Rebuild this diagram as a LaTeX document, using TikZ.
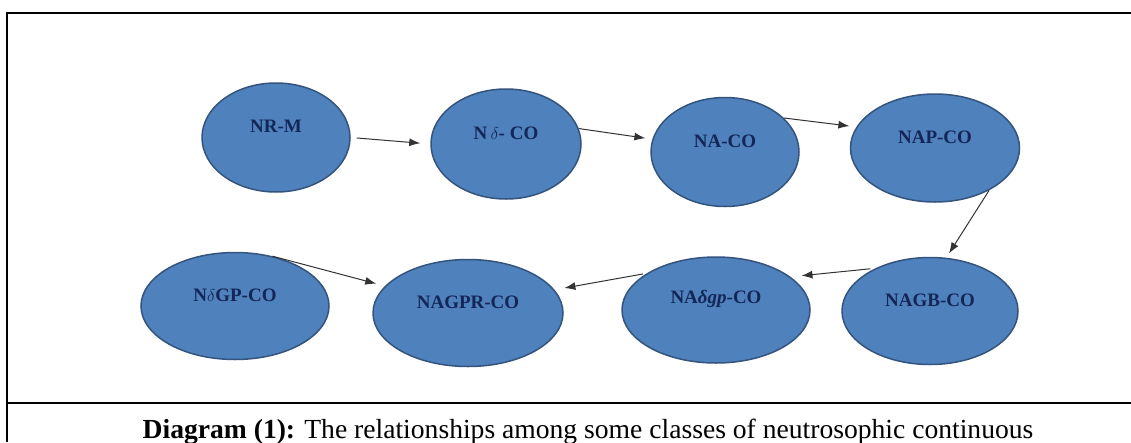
\documentclass[tikz,border=0pt]{standalone}
\usepackage{fontspec}
\setmainfont{Liberation Serif}
\usetikzlibrary{shapes.geometric,arrows.meta}
\definecolor{E}{RGB}{79,129,189}
\definecolor{B}{RGB}{52,84,126}
\definecolor{T}{RGB}{20,38,88}
\newcommand{\classnode}[6]{\node[classnode,minimum width=#4pt,minimum height=#5pt,label={[classlabel]center:#6}] (#1) at (#2,#3) {};}
\newcommand{\drawarrow}{\draw[-{Latex[length=11pt,width=8pt]},line width=1pt,black!80]}
\newcommand{\drawthick}{\draw[line width=2pt]}
\tikzset{
  classnode/.style={ellipse,draw=B,line width=1.5pt,fill=E,inner sep=0pt},
  classlabel/.style={yshift=11pt,text=T,inner sep=0pt,font=\fontsize{19}{19}\selectfont\bfseries}
}

\begin{document}
\begin{tikzpicture}[x=1pt,y=-1pt]
\useasboundingbox[fill=white] (0,0) rectangle (1131,442);
\drawthick (1131,13)--(7,13)--(7,442);
\drawthick (7,403)--(1131,403);
% top row
\classnode{nrm}{276}{137.5}{148}{109}{NR-M}
\classnode{nd}{506}{144}{150}{110}{N\,$\delta$- CO}
\classnode{na}{725}{152}{148}{109}{NA-CO}
\classnode{nap}{935}{148}{169}{108}{NAP-CO}
% bottom row
\classnode{ndgp}{235}{306}{188}{107}{N$\delta$GP-CO}
\classnode{nagpr}{468}{313}{190}{107}{NAGPR-CO}
\classnode{nadgp}{716}{310}{188}{106}{NA\textit{δgp}-CO}
\classnode{nagb}{930}{311}{176}{107}{NAGB-CO}
% arrows
\drawarrow[shorten <=6pt,shorten >=10pt] (nrm.east)--(nd.west);
\drawarrow[shorten >=7pt] (nd.12)--(na.170);
\drawarrow[shorten >=7pt] (na.30)--(nap.165);
\drawarrow[shorten >=5pt] (nap.-38)--(nagb.73);
\drawarrow[shorten <=5pt,shorten >=11pt] (nagb.142)--(nadgp.24);
\drawarrow[shorten <=4pt,shorten >=10pt] (nadgp.152)--(nagpr.15);
\drawarrow[shorten >=9pt] (ndgp.53)--(nagpr.162);
\node[anchor=base,inner sep=0pt,font=\fontsize{27.6}{27.6}\selectfont] (caption) at (588,438) {\textbf{Diagram (1):} The relationships among some classes of neutrosophic continuous};
\end{tikzpicture}
\end{document}
